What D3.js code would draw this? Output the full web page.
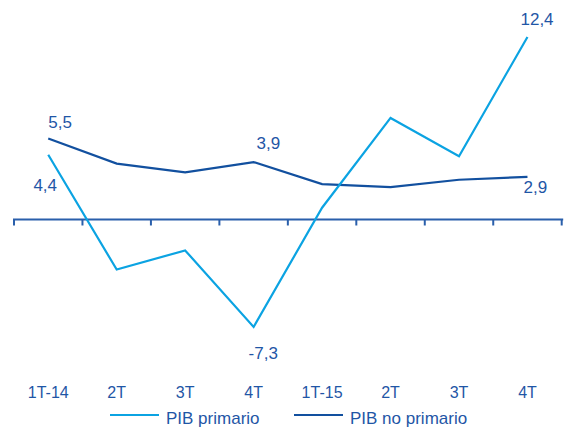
<!DOCTYPE html>
<html>
<head>
<meta charset="utf-8">
<script src="https://cdn.jsdelivr.net/npm/d3@7/dist/d3.min.js"></script>
<style>
  html, body { margin: 0; padding: 0; background: #ffffff; }
  svg { display: block; font-family: "Liberation Sans", Arial, sans-serif; }
</style>
</head>
<body>
<svg id="chart" width="569" height="427"></svg>
<script>
// Quarterly growth, %
const categories = ["1T-14", "2T", "3T", "4T", "1T-15", "2T", "3T", "4T"];
const pibPrimario = [4.4, -3.4, -2.1, -7.3, 0.8, 6.9, 4.3, 12.4];
const pibNoPrimario = [5.5, 3.8, 3.2, 3.9, 2.4, 2.2, 2.7, 2.9];
const seriesNames = ["PIB primario", "PIB no primario"];

// Labelled points: [series index, category index, dx, dy, anchor]
const valueLabels = [
  [1, 0, 0, -11, "start"],
  [0, 0, -3, 36, "middle"],
  [1, 3, 3, -13, "start"],
  [0, 3, -5, 32, "start"],
  [0, 7, -7, -12, "start"],
  [1, 7, -4, 16, "start"]
];

const colorLight = "#0ba3e2";
const colorDark = "#12509f";
const textColor = "#1f56a6";

const svg = d3.select("#chart");
const keys = categories.map((c, i) => i);

const x = d3.scaleBand().domain(keys).range([14, 561.7]).padding(0);
const y = d3.scaleLinear().domain([-10, 14]).range([366.7, 13.4]);
const cx = i => x(i) + x.bandwidth() / 2;

// Zero line with category ticks
const axisG = svg.append("g").attr("transform", `translate(0,${y(0)})`);
axisG.append("line")
  .attr("x1", x.range()[0] - 1).attr("x2", x.range()[1] + 1.5)
  .attr("y1", 0).attr("y2", 0)
  .attr("stroke", "#2a5fab").attr("stroke-width", 2);
const tickPos = keys.map(i => x(i)).concat([x.range()[1]]);
axisG.selectAll("line.tick").data(tickPos).enter().append("line")
  .attr("class", "tick")
  .attr("x1", d => d).attr("x2", d => d)
  .attr("y1", 0).attr("y2", 6)
  .attr("stroke", "#2a5fab").attr("stroke-width", 2);

// Category labels
svg.append("g").selectAll("text").data(categories).enter().append("text")
  .attr("x", (d, i) => cx(i))
  .attr("y", 398.3)
  .attr("text-anchor", "middle")
  .attr("font-size", 16)
  .attr("fill", textColor)
  .text(d => d);

// Series lines
const line = d3.line().x((d, i) => cx(i)).y(d => y(d));
const series = [pibPrimario, pibNoPrimario];
const colors = [colorLight, colorDark];
[1, 0].forEach(s => {
  svg.append("path")
    .datum(series[s])
    .attr("d", line)
    .attr("fill", "none")
    .attr("stroke", colors[s])
    .attr("stroke-width", 2.2)
    .attr("stroke-linejoin", "miter");
});

// Value labels
const fmt = v => String(v).replace(".", ",");
svg.append("g").selectAll("text").data(valueLabels).enter().append("text")
  .attr("x", d => cx(d[1]) + d[2])
  .attr("y", d => y(series[d[0]][d[1]]) + d[3])
  .attr("text-anchor", d => d[4])
  .attr("font-size", 17)
  .attr("fill", textColor)
  .text(d => fmt(series[d[0]][d[1]]));

// Legend
const legendX = [110, 294];
const legend = svg.append("g");
seriesNames.forEach((name, s) => {
  legend.append("line")
    .attr("x1", legendX[s]).attr("x2", legendX[s] + 49)
    .attr("y1", 415).attr("y2", 415)
    .attr("stroke", colors[s]).attr("stroke-width", 2.2);
  legend.append("text")
    .attr("x", legendX[s] + 56)
    .attr("y", 423.5)
    .attr("font-size", 17)
    .attr("fill", textColor)
    .text(name);
});
</script>
</body>
</html>
